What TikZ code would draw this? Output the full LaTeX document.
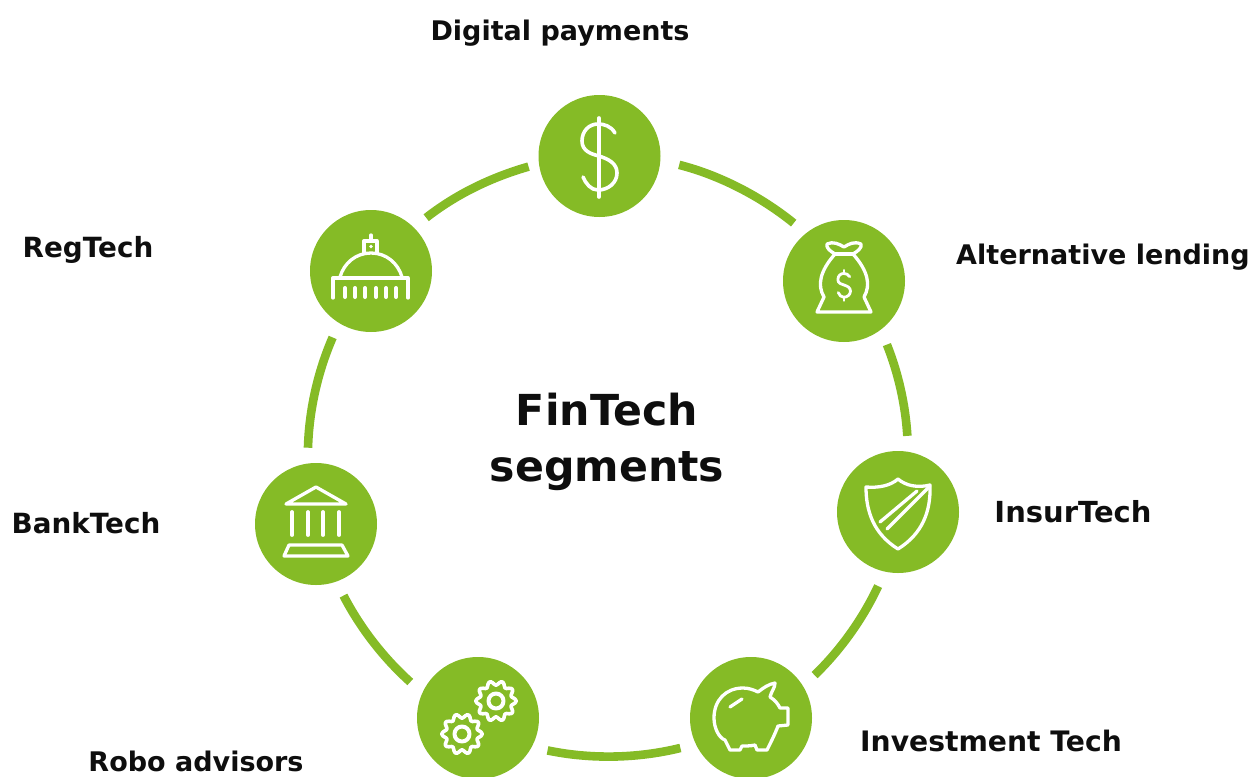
\documentclass[tikz,border=0pt]{standalone}
\usepackage{fontspec}
\setmainfont{DejaVu Sans}
\definecolor{fingreen}{HTML}{85BB26}
\definecolor{labelink}{HTML}{0E0E0E}
\tikzset{
  seg/.style={circle,fill=fingreen,draw=none,minimum size=122pt,inner sep=0pt,outer sep=15.7pt},
  ring/.style={draw=fingreen,line width=8.6pt,line cap=butt,looseness=0.85},
  lab/.style={font=\fontsize{#1}{32}\selectfont\bfseries,text=labelink,inner sep=0pt},
  lab/.default=27,
  ico/.style={draw=white,line width=3.3pt,line join=round,line cap=round},
}
\newcommand{\dollarS}{(16,-23) .. controls (12,-30) and (5,-32) .. (-1,-32) .. controls (-10,-32) and (-17,-25) .. (-17,-15) .. controls (-17,-5) and (-8,-2) .. (0,0) .. controls (9,3) and (18,7) .. (18,17) .. controls (18,27) and (9,34) .. (-1,34) .. controls (-8,34) and (-13,28) .. (-16,21)}
\begin{document}
\begin{tikzpicture}[x=1pt,y=-1pt]
\useasboundingbox (0,0) rectangle (1254,777);
\node[seg] (dig) at (599.5,156) {};
\node[seg] (alt) at (844,281) {};
\node[seg] (ins) at (898,512) {};
\node[seg] (inv) at (751,718) {};
\node[seg] (rob) at (478,718) {};
\node[seg] (ban) at (316,524) {};
\node[seg] (reg) at (371,271) {};
\draw[ring,bend left=12.4,shorten <=3.5pt] (dig.-6.4) to (alt.131.3);
\draw[ring,bend left=9.1] (alt.-56.3) to (ins.83.9);
\draw[ring,bend left=10.4] (ins.-105.1) to (inv.34.9);
\draw[ring,bend left=12.8] (inv.-157.8) to (rob.-25.6);
\draw[ring,bend left=10.3] (rob.152.1) to (ban.-69);
\draw[ring,bend left=10.9] (ban.96) to (reg.-120.6);
\draw[ring,bend left=10.9,shorten >=-5pt] (reg.44) to (dig.-171.2);
\node[lab] (ldig) at (560,33) {Digital payments};
\node[lab] (lalt) at (1103,257) {Alternative lending};
\node[lab=27.8] (lreg) at (88,250) {RegTech};
\node[lab=29] (lins) at (1073,512) {InsurTech};
\node[lab=27.8] (lban) at (86,523) {BankTech};
\node[lab=28.2] (linv) at (991,741) {Investment Tech};
\node[lab] (lrob) at (196,761) {Robo advisors};
\node[font=\fontsize{42.7}{56}\selectfont\bfseries,text=labelink,align=center,inner sep=0pt] (title) at (607,442) {FinTech\\segments};
% dollar
\begin{scope}[shift={(599,156)}]
\draw[ico,line width=3.6pt] \dollarS;
\draw[ico,line width=3.6pt] (0,-38) -- (0,41);
\end{scope}
% money bag
\begin{scope}[shift={(844,281)}]
\draw[ico] (-27,31) -- (27,31) -- (20,16) .. controls (27,4) and (24,-10) .. (9,-27) .. controls (14,-30) and (18,-33) .. (17,-37) .. controls (10,-40) and (5,-37) .. (0,-34) .. controls (-5,-37) and (-11,-40) .. (-17,-37) .. controls (-18,-33) and (-14,-30) .. (-9,-27) .. controls (-24,-10) and (-27,4) .. (-20,16) -- cycle;
\draw[ico] (-9,-27) -- (9,-27);
\begin{scope}[shift={(0,4)},scale=0.36]
\draw[ico,line width=2.8pt] \dollarS;
\draw[ico,line width=2.8pt] (0,-41) -- (0,-32) (0,34) -- (0,43);
\end{scope}
\end{scope}
% shield
\begin{scope}[shift={(898,512)}]
\draw[ico] (0,-33) .. controls (-8,-26) and (-20,-24) .. (-32,-25) .. controls (-32,0) and (-24,22) .. (0,37) .. controls (24,22) and (33,0) .. (32,-27) .. controls (20,-24) and (8,-26) .. (0,-33) -- cycle;
\draw[ico] (-18,10) -- (19,-21);
\draw[ico] (-11,17) -- (32,-26);
\end{scope}
% piggy bank
\begin{scope}[shift={(751,718)}]
\draw[ico] (24,-35) .. controls (24,-30) and (20,-26) .. (19,-21) .. controls (24,-18) and (27,-14) .. (29,-10) -- (37,-10) -- (37,7) -- (27,8) .. controls (24,16) and (20,24) .. (16,32) -- (6,32) -- (4,27) .. controls (0,28) and (-5,28) .. (-9,28) -- (-11,32) -- (-21,32) -- (-26,22) .. controls (-32,20) and (-37,10) .. (-37,0) .. controls (-37,-18) and (-25,-30) .. (-8,-30) .. controls (-2,-30) and (3,-28) .. (7,-26) .. controls (12,-30) and (18,-34) .. (24,-35) -- cycle;
\draw[ico] (-21,-11) -- (-9,-19);
\end{scope}
% gears
\begin{scope}[shift={(478,718)}]
\foreach \gx/\gy in {18/-17,-16/16}{
\draw[ico,line width=3.6pt,smooth,samples=73,domain=0:360] plot ({\gx+(18+2.2*cos(10*\x))*cos(\x)},{\gy+(18+2.2*cos(10*\x))*sin(\x)}) -- cycle;
\draw[ico,line width=4pt] (\gx,\gy) circle (7.5);
}
\end{scope}
% bank
\begin{scope}[shift={(316,524)}]
\draw[ico] (-30,-20) -- (0,-37) -- (30,-20) -- cycle;
\foreach \cx in {-24,-8,7,23}{\draw[ico,line width=3.8pt] (\cx,-12) -- (\cx,11);}
\draw[ico] (-32,32) -- (-27,21) -- (26,21) -- (32,32) -- cycle;
\end{scope}
% dome
\begin{scope}[shift={(371,271)}]
\draw[ico] (-38,27) -- (-38,7) -- (37,7) -- (37,27);
\draw[ico] (-31,6) .. controls (-27,-8) and (-15,-18) .. (0,-18) .. controls (15,-18) and (27,-8) .. (31,6);
\draw[ico] (-7,-18) -- (-7,-30) -- (6,-30) -- (6,-18);
\draw[ico] (0,-30) -- (0,-36);
\fill[white] (0,-24.5) circle (1.8);
\foreach \cx in {-26,-16,-6,5,15,25}{\draw[ico,line width=4pt] (\cx,17) -- (\cx,26);}
\end{scope}
\end{tikzpicture}
\end{document}
